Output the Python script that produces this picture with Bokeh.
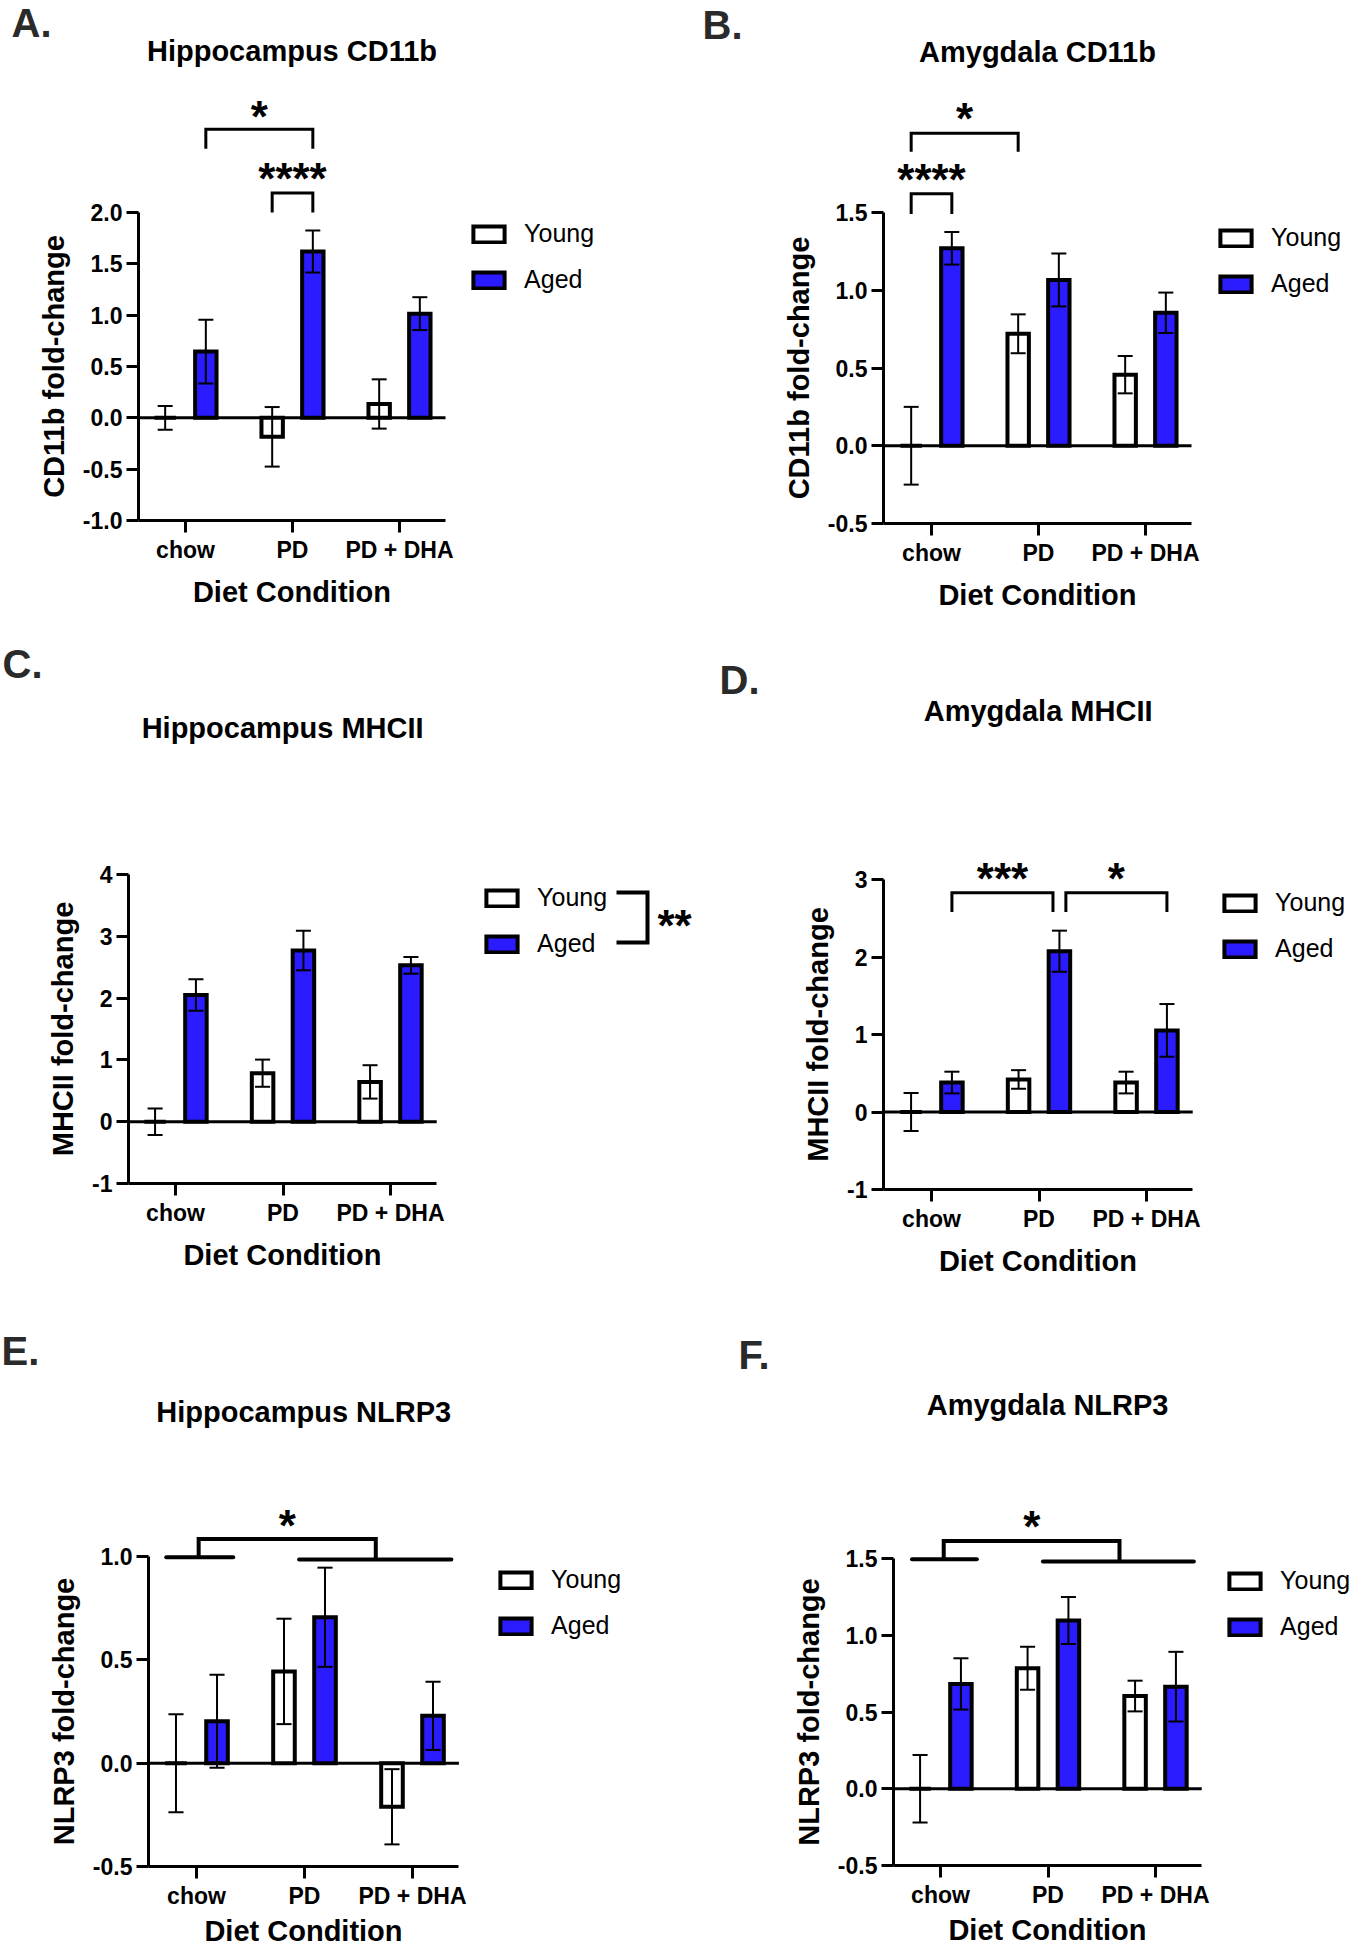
from bokeh.plotting import figure
from bokeh.models import Range1d, FixedTicker, NumeralTickFormatter, Label, Legend, LegendItem
from bokeh.layouts import column, row
from bokeh.embed import file_html
from bokeh.resources import INLINE

FONT = "Liberation Sans"
BLUE = "#2B1BFF"
LETTER_COLOR = "#2A2A2A"

categories = ["chow", "PD", "PD + DHA"]
series_names = ["Young", "Aged"]
x_title = "Diet Condition"

# A. Hippocampus CD11b
a_young = [0.0, -0.185, 0.135]
a_young_err = [0.115, 0.29, 0.24]
a_aged = [0.645, 1.62, 1.015]
a_aged_err = [0.31, 0.205, 0.16]

# B. Amygdala CD11b
b_young = [0.0, 0.72, 0.457]
b_young_err = [0.25, 0.125, 0.12]
b_aged = [1.27, 1.066, 0.855]
b_aged_err = [0.105, 0.17, 0.13]

# C. Hippocampus MHCII
c_young = [0.0, 0.785, 0.644]
c_young_err = [0.215, 0.22, 0.27]
c_aged = [2.05, 2.77, 2.53]
c_aged_err = [0.255, 0.32, 0.135]

# D. Amygdala MHCII
d_young = [0.0, 0.42, 0.38]
d_young_err = [0.245, 0.12, 0.14]
d_aged = [0.38, 2.075, 1.053]
d_aged_err = [0.14, 0.265, 0.34]

# E. Hippocampus NLRP3
e_young = [0.0, 0.444, -0.211]
e_young_err = [0.237, 0.255, 0.182]
e_aged = [0.203, 0.706, 0.229]
e_aged_err = [0.225, 0.24, 0.165]

# F. Amygdala NLRP3
f_young = [0.0, 0.785, 0.604]
f_young_err = [0.22, 0.14, 0.10]
f_aged = [0.683, 1.096, 0.665]
f_aged_err = [0.167, 0.153, 0.227]

OFFSET = 0.19
BAR_W = 0.2
CAP_W = 0.14
AXIS_END = 2.43
GLYPH_W = 39
GLYPH_H = 20
ITEM_H = 28
LEG_SPACING = 17
STAR_DROP = -6


def build(s):
    fx, fy, fw, fh = s["fig"]
    fbot = fy + fh
    axis_px = s["axis_px"]
    c0, c2 = s["cat_px"]
    xppu = (c2 - c0) / 2.0
    ymin, ymax = s["ybounds"]
    pmin, pmax = s["ypx"]
    yppu = (pmin - pmax) / (ymax - ymin)

    def dx(px):
        return (px - c0) / xppu

    def dy(py):
        return ymin + (pmin - py) / yppu

    p = figure(width=fw, height=fh, x_range=Range1d(dx(fx), dx(fx + fw)),
               y_range=Range1d(dy(fbot), dy(fy)),
               output_backend="svg", toolbar_location=None,
               min_border_left=0, min_border_right=0, min_border_top=0, min_border_bottom=0)
    p.title.visible = False
    p.xgrid.visible = False
    p.ygrid.visible = False
    p.outline_line_color = None
    p.background_fill_color = "white"
    p.border_fill_color = "white"

    def page_label(px, py, text, size, bold=True, align="center", baseline="middle", color="black",
                   y_offset=0):
        p.add_layout(Label(x=px - fx, y=fbot - py, x_units="screen", y_units="screen", text=text,
                           text_font=FONT, text_font_size=size,
                           text_font_style="bold" if bold else "normal",
                           text_align=align, text_baseline=baseline, text_color=color,
                           y_offset=y_offset))

    for ax in (p.xaxis[0], p.yaxis[0]):
        ax.axis_line_width = 3
        ax.axis_line_color = "black"
        ax.major_tick_line_width = 3
        ax.major_tick_line_color = "black"
        ax.major_tick_out = 12
        ax.major_tick_in = 0
        ax.minor_tick_out = 0
        ax.minor_tick_in = 0
        ax.major_label_text_font = FONT
        ax.major_label_text_font_size = "23px"
        ax.major_label_text_font_style = "bold"
        ax.major_label_text_color = "black"
        ax.major_label_standoff = 4
        ax.axis_label_text_font = FONT
        ax.axis_label_text_font_size = "29px"
        ax.axis_label_text_font_style = "bold"
        ax.axis_label_text_color = "black"
        ax.axis_label_standoff = 10

    x_axis_start = dx(axis_px)

    yax = p.yaxis[0]
    yax.ticker = FixedTicker(ticks=s["yticks"])
    yax.formatter = NumeralTickFormatter(format=s["yfmt"])
    yax.bounds = (ymin, ymax)
    yax.fixed_location = x_axis_start
    yax.axis_label = s["ylabel"]

    xax = p.xaxis[0]
    xax.ticker = FixedTicker(ticks=list(range(len(categories))))
    xax.major_label_overrides = {i: c for i, c in enumerate(categories)}
    xax.bounds = (x_axis_start, AXIS_END)
    xax.fixed_location = ymin
    xax.axis_label = x_title
    xax.axis_label_standoff = s.get("xlabel_standoff", 10)

    # zero line
    p.segment(x0=[x_axis_start], y0=[0], x1=[AXIS_END], y1=[0], line_width=3, line_color="black")

    xy = [i - OFFSET for i in range(len(categories))]
    xa = [i + OFFSET for i in range(len(categories))]
    ry = p.vbar(x=xy, top=s["young"], bottom=0, width=BAR_W, fill_color="white",
                line_color="black", line_width=4, line_join="miter")
    ra = p.vbar(x=xa, top=s["aged"], bottom=0, width=BAR_W, fill_color=BLUE,
                line_color="black", line_width=4, line_join="miter")

    for xpos, vals, errs in ((xy, s["young"], s["young_err"]), (xa, s["aged"], s["aged_err"])):
        lo = [v - e for v, e in zip(vals, errs)]
        hi = [v + e for v, e in zip(vals, errs)]
        p.segment(x0=xpos, y0=lo, x1=xpos, y1=hi, line_width=2, line_color="black")
        left = [x - CAP_W / 2 for x in xpos]
        right = [x + CAP_W / 2 for x in xpos]
        p.segment(x0=left, y0=hi, x1=right, y1=hi, line_width=2, line_color="black")
        p.segment(x0=left, y0=lo, x1=right, y1=lo, line_width=2, line_color="black")

    # pairwise comparison brackets
    for (xl, xr, ytop, yleg, stars, ystar) in s.get("brackets", []):
        p.line(x=[xl, xl, xr, xr], y=[yleg, ytop, ytop, yleg], line_width=3,
               line_color="black", line_join="miter")
        p.add_layout(Label(x=(xl + xr) / 2, y=ystar, text=stars, text_font=FONT,
                           text_font_size="44px", text_font_style="bold", text_color="black",
                           text_align="center", text_baseline="middle", y_offset=STAR_DROP))

    # main-effect brackets (E, F)
    if "effect" in s:
        e = s["effect"]
        for (x0, x1, yy) in e["lines"]:
            p.line(x=[x0, x1], y=[yy, yy], line_width=4, line_color="black", line_cap="round")
        p.line(x=e["bx"], y=e["by"], line_width=4, line_color="black", line_join="miter")
        p.add_layout(Label(x=e["star"][0], y=e["star"][1], text="*", text_font=FONT,
                           text_font_size="44px", text_font_style="bold", text_color="black",
                           text_align="center", text_baseline="middle", y_offset=STAR_DROP))

    # legend (Bokeh insets the glyph rect by 10%)
    lx, ly = s["legend_xy"]
    gx0 = lx - 0.1 * GLYPH_W
    gy0 = ly - 0.1 * GLYPH_H
    leg_h = 2 * ITEM_H + LEG_SPACING
    legend = Legend(items=[LegendItem(label=series_names[0], renderers=[ry]),
                           LegendItem(label=series_names[1], renderers=[ra])],
                    location=(gx0 - fx, fbot - gy0 - leg_h), orientation="vertical",
                    glyph_width=GLYPH_W, glyph_height=GLYPH_H, label_height=GLYPH_H,
                    label_standoff=16, spacing=LEG_SPACING, padding=0, margin=0,
                    border_line_color=None, background_fill_alpha=0,
                    label_text_font=FONT, label_text_font_size="25px", label_text_color="black")
    p.add_layout(legend)

    # interaction bracket next to the legend (C)
    if "legend_bracket" in s:
        (x0, x1, y0, y1, tx, ty) = s["legend_bracket"]
        p.line(x=[dx(x0), dx(x1), dx(x1), dx(x0)], y=[dy(y0), dy(y0), dy(y1), dy(y1)],
               line_width=4, line_color="black", line_join="miter")
        page_label(tx, ty, "**", "44px", align="left", y_offset=STAR_DROP)

    # title and panel letter
    page_label((axis_px + c0 + AXIS_END * xppu) / 2.0, s["title_y"], s["title"], "29px")
    page_label(s["letter_xy"][0], s["letter_xy"][1], s["letter"], "40px", align="left",
               color=LETTER_COLOR)
    return p


specs = [
    dict(fig=(0, 0, 678, 640), axis_px=138, cat_px=(185, 399),
         ybounds=(-1.0, 2.0), ypx=(520, 212), yticks=[-1.0, -0.5, 0.0, 0.5, 1.0, 1.5, 2.0], yfmt="0.0",
         ylabel="CD11b fold-change", title="Hippocampus CD11b", title_y=50,
         letter="A.", letter_xy=(11, 22), legend_xy=(473, 223),
         young=a_young, young_err=a_young_err, aged=a_aged, aged_err=a_aged_err,
         brackets=[(0 + OFFSET, 1 + OFFSET, 2.81, 2.62, "*", 2.99),
                   (1 - OFFSET, 1 + OFFSET, 2.19, 2.0, "****", 2.39)]),
    dict(fig=(678, 0, 678, 640), axis_px=883, cat_px=(931, 1145),
         ybounds=(-0.5, 1.5), ypx=(523, 212), yticks=[-0.5, 0.0, 0.5, 1.0, 1.5], yfmt="0.0",
         ylabel="CD11b fold-change", title="Amygdala CD11b", title_y=51,
         letter="B.", letter_xy=(702, 24), legend_xy=(1220, 227),
         young=b_young, young_err=b_young_err, aged=b_aged, aged_err=b_aged_err,
         brackets=[(0 - OFFSET, 1 - OFFSET, 2.01, 1.89, "*", 2.14),
                   (0 - OFFSET, 0 + OFFSET, 1.62, 1.49, "****", 1.75)]),
    dict(fig=(0, 640, 718, 670), axis_px=128, cat_px=(175, 390),
         ybounds=(-1, 4), ypx=(1183, 874), yticks=[-1, 0, 1, 2, 3, 4], yfmt="0",
         ylabel="MHCII fold-change", title="Hippocampus MHCII", title_y=727,
         letter="C.", letter_xy=(2, 663), legend_xy=(486, 887),
         young=c_young, young_err=c_young_err, aged=c_aged, aged_err=c_aged_err,
         legend_bracket=(616, 647, 892, 942, 657, 919)),
    dict(fig=(718, 640, 638, 670), axis_px=883, cat_px=(931, 1146),
         ybounds=(-1, 3), ypx=(1189, 879), yticks=[-1, 0, 1, 2, 3], yfmt="0",
         ylabel="MHCII fold-change", title="Amygdala MHCII", title_y=710,
         letter="D.", letter_xy=(719, 679), legend_xy=(1224, 892),
         young=d_young, young_err=d_young_err, aged=d_aged, aged_err=d_aged_err,
         brackets=[(0 + OFFSET, 1 + OFFSET - 0.06, 2.83, 2.58, "***", 3.09),
                   (1 + OFFSET + 0.06, 2 + OFFSET, 2.83, 2.58, "*", 3.09)]),
    dict(fig=(0, 1310, 678, 640), axis_px=148, cat_px=(196, 412),
         ybounds=(-0.5, 1.0), ypx=(1866, 1556), yticks=[-0.5, 0.0, 0.5, 1.0], yfmt="0.0",
         ylabel="NLRP3 fold-change", title="Hippocampus NLRP3", title_y=1411,
         letter="E.", letter_xy=(1, 1350), legend_xy=(500, 1569), xlabel_standoff=3,
         young=e_young, young_err=e_young_err, aged=e_aged, aged_err=e_aged_err,
         effect=dict(lines=[(-0.28, 0.34, 0.996), (0.95, 2.36, 0.986)],
                     bx=[0.02, 0.02, 1.66, 1.66], by=[0.996, 1.085, 1.085, 0.986],
                     star=(0.84, 1.18))),
    dict(fig=(678, 1310, 678, 640), axis_px=893, cat_px=(940, 1155),
         ybounds=(-0.5, 1.5), ypx=(1865, 1558), yticks=[-0.5, 0.0, 0.5, 1.0, 1.5], yfmt="0.0",
         ylabel="NLRP3 fold-change", title="Amygdala NLRP3", title_y=1404,
         letter="F.", letter_xy=(738, 1354), legend_xy=(1229, 1570), xlabel_standoff=3,
         young=f_young, young_err=f_young_err, aged=f_aged, aged_err=f_aged_err,
         effect=dict(lines=[(-0.265, 0.338, 1.495), (0.953, 2.357, 1.481)],
                     bx=[0.03, 0.03, 1.665, 1.665], by=[1.495, 1.614, 1.614, 1.481],
                     star=(0.85, 1.747))),
]

figs = [build(s) for s in specs]
layout = column(row(figs[0], figs[1]), row(figs[2], figs[3]), row(figs[4], figs[5]))

open("out.html", "w").write(file_html(layout, INLINE, title="Microglial markers by diet"))
